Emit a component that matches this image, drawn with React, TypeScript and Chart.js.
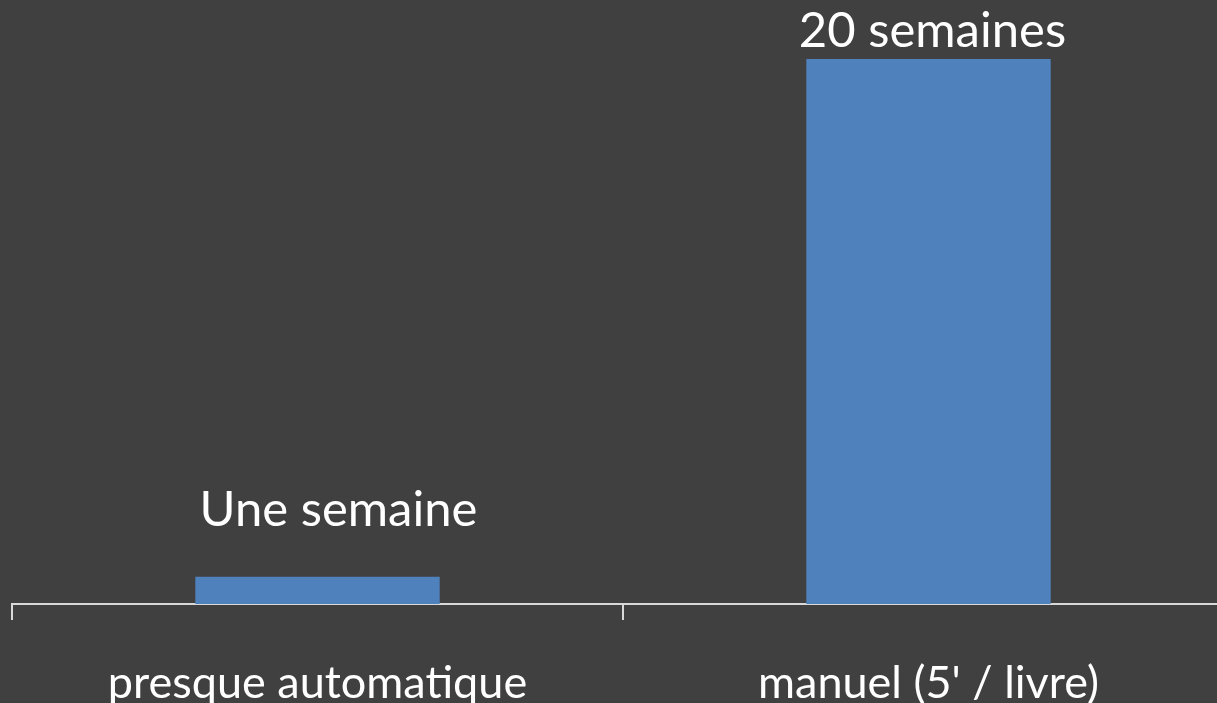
import React, { useEffect, useRef } from "react";
import { Chart, registerables } from "chart.js";

Chart.register(...registerables);

const categories = ["presque automatique", "manuel (5' / livre)"];
const durations = [1, 20];
const valueLabels = ["Une semaine", "20 semaines"];

const FONT = "Lato, 'Open Sans', sans-serif";

const valueLabelPlugin = {
  id: "valueLabels",
  afterDatasetsDraw(chart: any, _args: any, opts: any) {
    const ctx = chart.ctx;
    const meta = chart.getDatasetMeta(0);
    ctx.save();
    ctx.fillStyle = "#ffffff";
    ctx.font = `49px ${FONT}`;
    ctx.textAlign = "center";
    ctx.textBaseline = "alphabetic";
    meta.data.forEach((bar: any, i: number) => {
      const off = (opts.offsets && opts.offsets[i]) || { dx: 0, dy: 10 };
      ctx.fillText(valueLabels[i], bar.x + off.dx, bar.y - off.dy);
    });
    ctx.restore();
  },
};

export default function App() {
  const ref = useRef<HTMLCanvasElement>(null);
  useEffect(() => {
    if (!ref.current) return;
    const chart = new Chart(ref.current, {
      type: "bar",
      data: {
        labels: categories,
        datasets: [
          {
            data: durations,
            backgroundColor: "#4F81BD",
            barPercentage: 0.4,
            categoryPercentage: 1,
          },
        ],
      },
      options: {
        animation: false,
        responsive: false,
        maintainAspectRatio: false,
        layout: { padding: { top: 59, left: 12, right: 6, bottom: 0 } },
        plugins: {
          legend: { display: false },
          tooltip: { enabled: false },
          valueLabels: { offsets: [{ dx: 21, dy: 51 }, { dx: 4, dy: 12 }] },
        } as any,
        scales: {
          x: {
            offset: true,
            border: { display: true, color: "#D9D9D9", width: 2 },
            grid: {
              offset: true,
              drawOnChartArea: false,
              drawTicks: true,
              tickLength: 16,
              color: "#D9D9D9",
              lineWidth: 2,
            },
            ticks: {
              color: "#ffffff",
              font: { family: FONT, size: 45 },
              padding: 36,
              maxRotation: 0,
            },
          },
          y: {
            display: false,
            min: 0,
            max: 20,
          },
        },
      },
      plugins: [valueLabelPlugin],
    });
    return () => chart.destroy();
  }, []);
  return (
    <div
      style={{
        position: "fixed",
        left: 0,
        top: 0,
        width: 1217,
        height: 703,
        overflow: "hidden",
        background: "#404040",
      }}
    >
      <canvas ref={ref} width={1240} height={746} style={{ display: "block" }} />
    </div>
  );
}
